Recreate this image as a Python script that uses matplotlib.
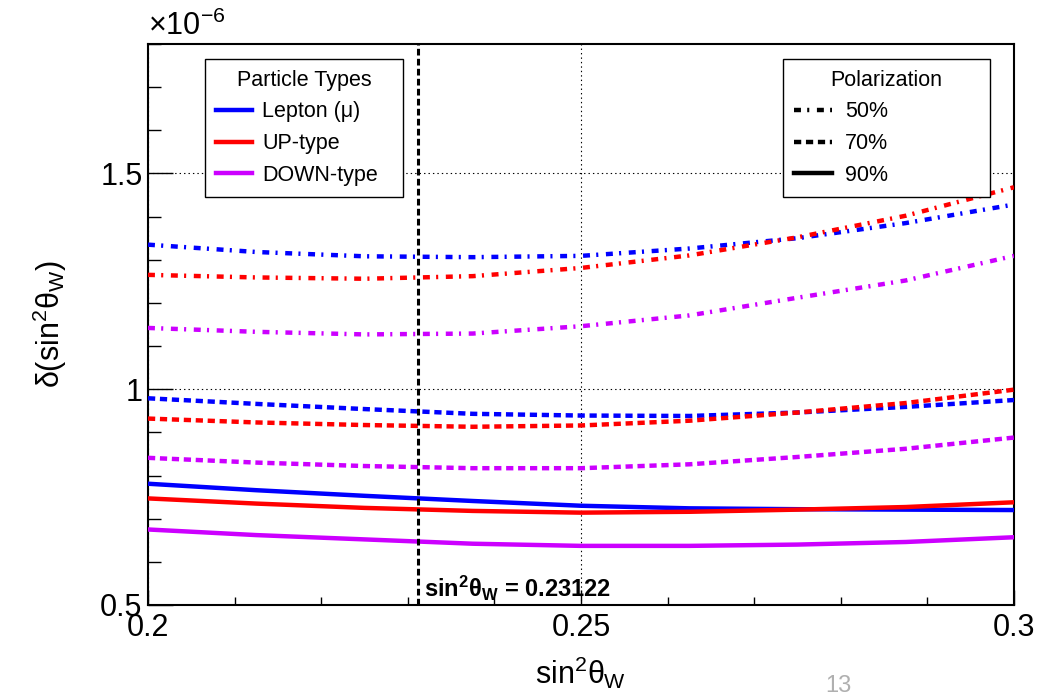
import numpy as np
import matplotlib
matplotlib.use("Agg")
import matplotlib.pyplot as plt
from matplotlib.lines import Line2D
from matplotlib.ticker import FixedLocator, MultipleLocator, FuncFormatter

plt.rcParams['font.family'] = ['Liberation Sans', 'DejaVu Sans']
plt.rcParams['mathtext.fontset'] = 'custom'
plt.rcParams['mathtext.rm'] = 'Liberation Sans'
plt.rcParams['mathtext.it'] = 'Liberation Sans'
plt.rcParams['mathtext.bf'] = 'Liberation Sans:bold'
plt.rcParams['lines.scale_dashes'] = False

# sin^2(theta_W) sample points
sin2w = [0.200, 0.2125, 0.225, 0.2375, 0.250, 0.2625, 0.275, 0.2875, 0.300]
SIN2W_REF = 0.23122

# delta(sin^2 theta_W) in units of 1e-6
lep_50 = [1.335, 1.318, 1.308, 1.306, 1.309, 1.326, 1.350, 1.385, 1.428]
up_50 = [1.265, 1.259, 1.256, 1.262, 1.281, 1.310, 1.352, 1.402, 1.468]
down_50 = [1.142, 1.133, 1.127, 1.129, 1.146, 1.171, 1.212, 1.252, 1.309]

lep_70 = [0.979, 0.966, 0.954, 0.943, 0.939, 0.938, 0.946, 0.959, 0.975]
up_70 = [0.932, 0.923, 0.917, 0.913, 0.916, 0.927, 0.946, 0.968, 0.999]
down_70 = [0.841, 0.830, 0.822, 0.817, 0.817, 0.826, 0.843, 0.862, 0.888]

lep_90 = [0.781, 0.766, 0.753, 0.741, 0.730, 0.724, 0.722, 0.721, 0.720]
up_90 = [0.747, 0.735, 0.725, 0.718, 0.714, 0.716, 0.721, 0.727, 0.738]
down_90 = [0.675, 0.662, 0.652, 0.642, 0.637, 0.637, 0.640, 0.646, 0.657]

particles = ["Lepton (\u03bc)", "UP-type", "DOWN-type"]
pols = ["50%", "70%", "90%"]

BLUE = '#0000ff'
RED = '#ff0000'
MAG = '#cc00ff'
colors = [BLUE, RED, MAG]

DASHDOT = (0, (5.0, 4.5, 1.5, 5.5))
DASHED = (0, (5.2, 3.4))
SOLID = '-'
styles = [DASHDOT, DASHED, SOLID]

series = [
    [lep_50, up_50, down_50],
    [lep_70, up_70, down_70],
    [lep_90, up_90, down_90],
]

fig = plt.figure(figsize=(10.37, 6.97), dpi=100)
fig.patch.set_facecolor('white')
ax = fig.add_axes([0.1427, 0.132, 0.8351, 0.8049])

# curves
for pi, group in enumerate(series):
    for ci, vals in enumerate(group):
        ax.plot(sin2w, vals, color=colors[ci], linestyle=styles[pi],
                lw=3.2, zorder=3)

# reference line
ax.axvline(SIN2W_REF, color='black', lw=2.2, linestyle=(0, (4.8, 2.4)), zorder=4)
ax.text(SIN2W_REF + 0.0006, 0.519,
        r"sin$^{\mathbf{2}}\mathbf{\theta}_{\mathbf{W}}$ = 0.23122",
        fontsize=17, fontweight='bold', ha='left', va='baseline', zorder=5)

ax.set_xlim(0.2, 0.3)
ax.set_ylim(0.5, 1.8)

ax.xaxis.set_major_locator(FixedLocator([0.2, 0.25, 0.3]))
ax.xaxis.set_minor_locator(MultipleLocator(0.01))
ax.yaxis.set_major_locator(FixedLocator([0.5, 1.0, 1.5]))
ax.yaxis.set_minor_locator(MultipleLocator(0.1))
fmt = FuncFormatter(lambda v, p: "%g" % round(v, 4))
ax.xaxis.set_major_formatter(fmt)
ax.yaxis.set_major_formatter(fmt)

ax.tick_params(axis='both', which='both', direction='in', top=False, right=False,
               labelsize=22, width=1.0, color='black')
ax.tick_params(axis='y', which='major', length=18, pad=4)
ax.tick_params(axis='y', which='minor', length=9.5)
ax.tick_params(axis='x', which='major', length=11, pad=6)
ax.tick_params(axis='x', which='minor', length=5.5)

ax.grid(True, which='major', color='black', lw=0.8, linestyle=(0, (1, 2.2)), zorder=1)
for s in ax.spines.values():
    s.set_linewidth(1.5)

ax.set_xlabel(r"sin$^2\theta_W$", fontsize=22, labelpad=8)
ax.set_ylabel(r"$\delta$(sin$^2\theta_W$)", fontsize=22, labelpad=22)
ax.text(0.0, 1.004, r"$\times$10$^{-6}$", transform=ax.transAxes,
        fontsize=22, ha='left', va='bottom')

# legends
p_handles = [Line2D([], [], color=c, lw=3.2) for c in colors]
leg1 = ax.legend(p_handles, particles, title="Particle Types",
                 loc='upper left', bbox_to_anchor=(0.1977, 0.9154 - 0.2, 0.191, 0.2),
                 bbox_transform=fig.transFigure, mode='expand', borderaxespad=0,
                 fontsize=15.5, title_fontsize=15.5, handlelength=1.7,
                 handletextpad=0.45, labelspacing=0.5, borderpad=0.5,
                 fancybox=False, framealpha=1, edgecolor='black')
leg1.get_frame().set_linewidth(1.0)
ax.add_artist(leg1)

s_handles = [Line2D([], [], color='black', lw=3.2, linestyle=s) for s in styles]
leg2 = ax.legend(s_handles, pols, title="Polarization",
                 loc='upper left', bbox_to_anchor=(0.755, 0.9154 - 0.2, 0.1996, 0.2),
                 bbox_transform=fig.transFigure, mode='expand', borderaxespad=0,
                 fontsize=15.5, title_fontsize=15.5, handlelength=1.8,
                 handletextpad=0.6, labelspacing=0.5, borderpad=0.5,
                 fancybox=False, framealpha=1, edgecolor='black')
leg2.get_frame().set_linewidth(1.0)
leg1.set_zorder(6)
leg2.set_zorder(6)

# slide page number at the bottom edge
fig.text(0.808, 0.0, "13", fontsize=17, color='#b0b0b0', ha='center', va='bottom')

fig.savefig("out.png", dpi=100, facecolor='white')
